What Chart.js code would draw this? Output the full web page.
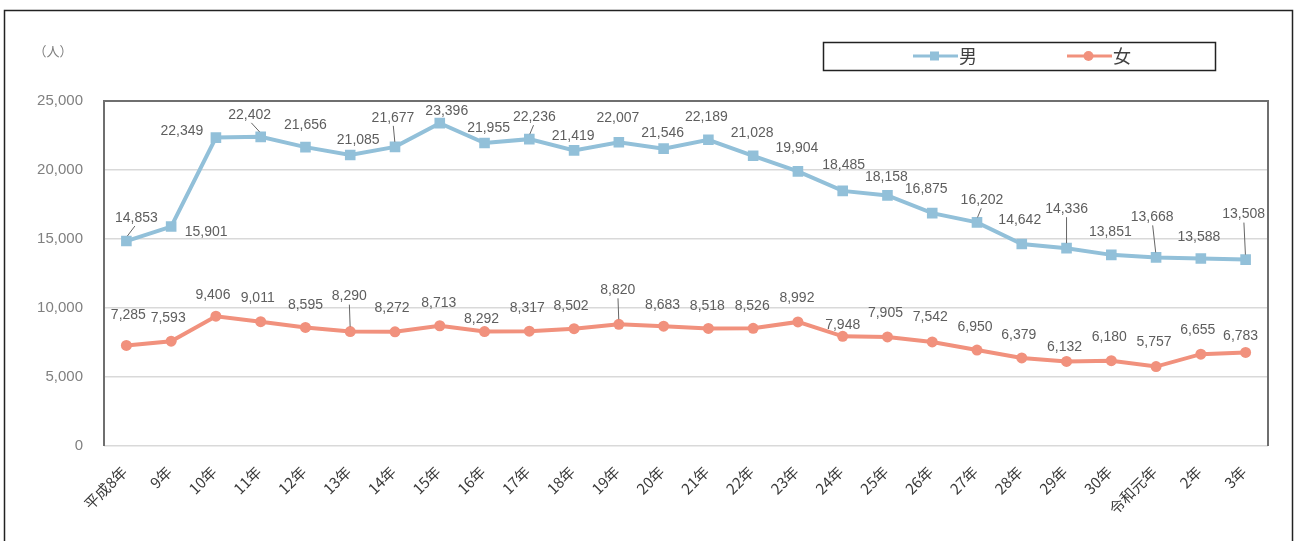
<!DOCTYPE html>
<html><head><meta charset="utf-8">
<script src="https://cdn.jsdelivr.net/npm/chart.js@4"></script>
<style>html,body{margin:0;padding:0;background:#fff;}#wrap{width:1296px;height:541px;position:relative;}</style>
</head><body><div id="wrap"><canvas id="c" width="1296" height="541"></canvas></div>
<script>
const categories = ['平成8年','9年','10年','11年','12年','13年','14年','15年','16年','17年','18年','19年','20年','21年','22年','23年','24年','25年','26年','27年','28年','29年','30年','令和元年','2年','3年'];
const maleValues = [14853,15901,22349,22402,21656,21085,21677,23396,21955,22236,21419,22007,21546,22189,21028,19904,18485,18158,16875,16202,14642,14336,13851,13668,13588,13508];
const femaleValues = [7285,7593,9406,9011,8595,8290,8272,8713,8292,8317,8502,8820,8683,8518,8526,8992,7948,7905,7542,6950,6379,6132,6180,5757,6655,6783];
const yTickValues = [0,5000,10000,15000,20000,25000];
const seriesNames = ['男','女'];
const unitLabel = '（人）';

// label layout (offsets of data labels from their points, in px)
const maleLabelOffsets = [[10,-23],[35,6],[-34,-6],[-11,-22],[0,-22],[8,-15],[-2,-29],[7,-12],[4,-15],[5,-22],[-1,-14],[-1,-24],[-1,-16],[-2,-23],[-1,-23],[-1,-23],[1,-26],[-1,-18],[-6,-24],[5,-22],[-2,-24],[0,-39],[-1,-23],[-4,-40],[-2,-21],[-2,-45]];
const femaleLabelOffsets = [[2,-30],[-3,-23],[-3,-21],[-3,-24],[0,-22],[-1,-35],[-3,-24],[-1,-23],[-3,-12],[-2,-23],[-3,-23],[-1,-34],[-1,-21],[-1,-22],[-1,-22],[-1,-24],[0,-11],[-2,-24],[-2,-25],[-2,-23],[-3,-23],[-2,-14],[-2,-24],[-2,-24],[-3,-24],[-5,-16]];
const maleLeaders = [0,3,6,9,19,21,23,25];
const femaleLeaders = [5,11];

const maleColor = '#92c0d9';
const femaleColor = '#f1917d';

function fmt(v){ return v.toString().replace(/\B(?=(\d{3})+(?!\d))/g, ','); }

const decor = {
  id: 'decor',
  beforeDraw(chart){
    const ctx = chart.ctx;
    ctx.save();
    ctx.fillStyle = '#fff';
    ctx.fillRect(0,0,chart.width,chart.height);
    ctx.strokeStyle = '#222';
    ctx.lineWidth = 1.5;
    ctx.strokeRect(4.5, 10.5, 1288, 540);
    // unit label
    ctx.fillStyle = '#808080';
    ctx.font = '13px "Noto Sans CJK JP", sans-serif';
    ctx.textAlign = 'center';
    ctx.textBaseline = 'middle';
    ctx.fillText(unitLabel, 53, 51);
    // legend box
    ctx.strokeStyle = '#222';
    ctx.lineWidth = 1.5;
    ctx.strokeRect(823.5, 42.5, 392, 28);
    const items = [
      {x: 913, color: maleColor, style: 'rect', text: seriesNames[0]},
      {x: 1067, color: femaleColor, style: 'circle', text: seriesNames[1]}
    ];
    items.forEach(it => {
      ctx.strokeStyle = it.color; ctx.lineWidth = 3;
      ctx.beginPath(); ctx.moveTo(it.x, 56); ctx.lineTo(it.x + 45, 56); ctx.stroke();
      ctx.fillStyle = it.color;
      if (it.style === 'rect') { ctx.fillRect(it.x + 17, 51.5, 9, 9); }
      else { ctx.beginPath(); ctx.arc(it.x + 21.5, 56, 5, 0, Math.PI*2); ctx.fill(); }
      ctx.fillStyle = '#404040';
      ctx.font = '18px "Noto Sans CJK JP", sans-serif';
      ctx.textAlign = 'left';
      ctx.fillText(it.text, it.x + 46, 56);
    });
    ctx.restore();
  },
  beforeDatasetsDraw(chart){
    const {ctx, chartArea: a} = chart;
    ctx.save();
    ctx.strokeStyle = '#6f6f6f';
    ctx.lineWidth = 2;
    ctx.beginPath();
    ctx.moveTo(a.left, a.bottom); ctx.lineTo(a.left, a.top); ctx.lineTo(a.right, a.top); ctx.lineTo(a.right, a.bottom);
    ctx.stroke();
    ctx.restore();
  },
  afterDatasetsDraw(chart){
    const ctx = chart.ctx;
    ctx.save();
    ctx.font = '14px "Liberation Sans", Arial, sans-serif';
    ctx.textAlign = 'center';
    ctx.textBaseline = 'middle';
    const sets = [[0, maleLabelOffsets, maleLeaders],[1, femaleLabelOffsets, femaleLeaders]];
    sets.forEach(([di, offs, leaders]) => {
      const meta = chart.getDatasetMeta(di);
      const vals = chart.data.datasets[di].data;
      meta.data.forEach((pt, i) => {
        const lx = pt.x + offs[i][0], ly = pt.y + offs[i][1];
        if (leaders.includes(i)) {
          ctx.strokeStyle = '#666'; ctx.lineWidth = 1;
          ctx.beginPath();
          ctx.moveTo(lx + (pt.x - lx) * 0.15, ly + 8);
          ctx.lineTo(pt.x - (pt.x - lx) * 0.1, pt.y - 5);
          ctx.stroke();
        }
        ctx.fillStyle = '#5e5e5e';
        ctx.fillText(fmt(vals[i]), lx, ly);
      });
    });
    // x labels
    const xs = chart.scales.x;
    ctx.font = '15px "Noto Sans CJK JP", sans-serif';
    ctx.fillStyle = '#3a3a3a';
    ctx.textAlign = 'right';
    ctx.textBaseline = 'middle';
    categories.forEach((lab, i) => {
      const x = xs.getPixelForValue(i);
      ctx.save();
      ctx.translate(x - 2, 469);
      ctx.rotate(-Math.PI/4);
      ctx.fillText(lab, 0, 0);
      ctx.restore();
    });
    ctx.restore();
  }
};

new Chart(document.getElementById('c'), {
  type: 'line',
  data: {
    labels: categories,
    datasets: [
      {label: seriesNames[0], data: maleValues, borderColor: maleColor, backgroundColor: maleColor, borderWidth: 4, pointStyle: 'rect', pointRadius: 7.5, pointBorderWidth: 0, tension: 0},
      {label: seriesNames[1], data: femaleValues, borderColor: femaleColor, backgroundColor: femaleColor, borderWidth: 4, pointStyle: 'circle', pointRadius: 5.5, pointBorderWidth: 0, tension: 0}
    ]
  },
  options: {
    responsive: false,
    animation: false,
    devicePixelRatio: 1,
    layout: {padding: {top: 101, right: 28, left: 0, bottom: 0}},
    plugins: {legend: {display: false}, tooltip: {enabled: false}},
    scales: {
      x: {
        offset: true,
        grid: {display: false},
        border: {display: false},
        ticks: {display: false},
        afterFit(s){ s.height = 95; }
      },
      y: {
        min: 0, max: 25000,
        afterBuildTicks(s){ s.ticks = yTickValues.map(v => ({value: v})); },
        grid: {color: '#d9d9d9', lineWidth: 1.5, drawTicks: false},
        border: {display: false},
        ticks: {
          padding: 21,
          color: '#808080',
          font: {family: '"Liberation Sans", Arial, sans-serif', size: 15},
          callback: v => fmt(v)
        },
        afterFit(s){ s.width = 104; }
      }
    }
  },
  plugins: [decor]
});
</script></body></html>
